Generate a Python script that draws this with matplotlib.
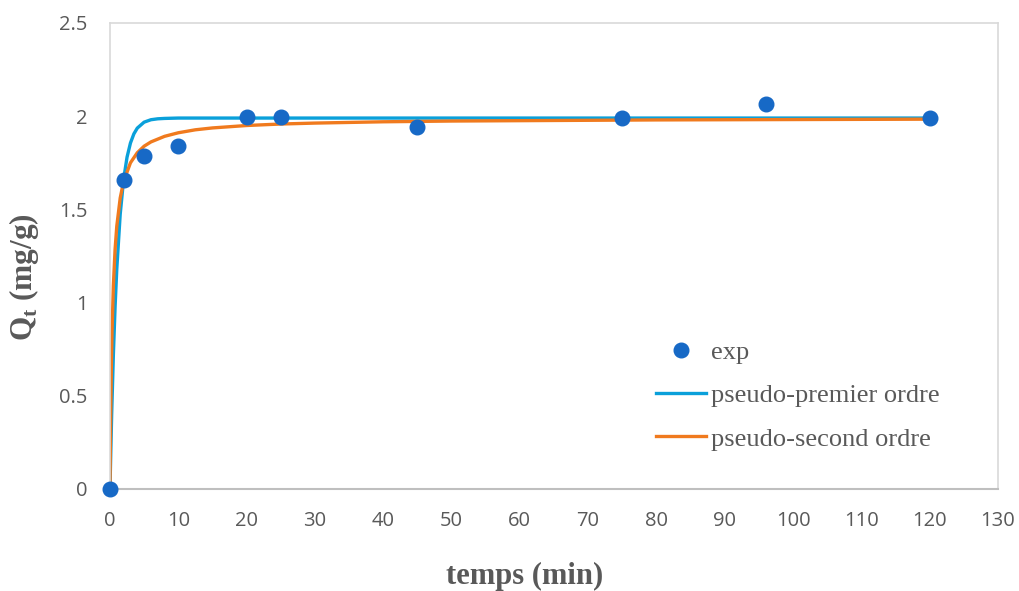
import matplotlib
matplotlib.use("Agg")
import matplotlib.pyplot as plt

# Experimental data
t_exp = [0, 2, 5, 10, 20, 25, 45, 75, 96, 120]
q_exp = [0, 1.655, 1.785, 1.838, 1.995, 1.995, 1.94, 1.99, 2.068, 1.99]

# Pseudo-first order curve
t_pfo = [0, 0.25, 0.5, 0.75, 1, 1.5, 2, 2.5, 3, 3.5, 4, 5, 6, 7, 8, 10, 20, 40, 60, 80, 100, 120]
q_pfo = [0, 0.401, 0.721, 0.977, 1.181, 1.474, 1.661, 1.780, 1.856, 1.905, 1.936, 1.968,
         1.981, 1.986, 1.988, 1.990, 1.990, 1.990, 1.990, 1.990, 1.990, 1.990]

# Pseudo-second order curve
t_pso = [0, 0.1, 0.2, 0.3, 0.5, 0.75, 1, 1.5, 2, 3, 4, 5, 6, 8, 10, 12.5, 15, 20, 25, 30,
         40, 50, 60, 80, 100, 120]
q_pso = [0, 0.389, 0.650, 0.839, 1.091, 1.285, 1.410, 1.561, 1.650, 1.750, 1.804, 1.839,
         1.862, 1.892, 1.911, 1.927, 1.937, 1.950, 1.958, 1.963, 1.970, 1.974, 1.976,
         1.980, 1.982, 1.984]

x_ticks = [0, 10, 20, 30, 40, 50, 60, 70, 80, 90, 100, 110, 120, 130]
y_ticks = [0, 0.5, 1, 1.5, 2, 2.5]
y_tick_labels = ["0", "0.5", "1", "1.5", "2", "2.5"]

fig = plt.figure(figsize=(10.2, 5.91), dpi=100)
ax = fig.add_axes([0.1078, 0.1726, 0.8706, 0.7885])

ax.plot(t_exp, q_exp, linestyle="none", marker="o", markersize=10.5,
        color="#1769C6", label="exp", zorder=3, clip_on=False)
ax.plot(t_pfo, q_pfo, color="#0AA0DA", linewidth=2.4, label="pseudo-premier ordre", zorder=2)
ax.plot(t_pso, q_pso, color="#F07A1E", linewidth=2.4, label="pseudo-second ordre", zorder=2)

ax.set_xlim(0, 130)
ax.set_ylim(0, 2.5)
ax.set_xticks(x_ticks)
ax.set_yticks(y_ticks)
ax.set_yticklabels(y_tick_labels)
ax.tick_params(length=0, labelsize=14.5, labelcolor="#595959")
ax.tick_params(axis="x", pad=16)
ax.tick_params(axis="y", pad=16)
for lab in ax.get_xticklabels() + ax.get_yticklabels():
    lab.set_family("Open Sans")

for side in ["top", "right", "left"]:
    ax.spines[side].set_color("#D9D9D9")
    ax.spines[side].set_linewidth(1.2)
ax.spines["bottom"].set_color("#BFBFBF")
ax.spines["bottom"].set_linewidth(1.5)

ax.set_xlabel("temps (min)", family="Liberation Serif", fontweight="bold",
              fontsize=22, color="#595959")
ax.xaxis.set_label_coords(0.467, -0.157)
ax.set_ylabel(r"Q$_\mathregular{t}$ (mg/g)", family="Liberation Serif", fontweight="bold",
              fontsize=22.5, color="#595959")
ax.yaxis.set_label_coords(-0.078, 0.455)

leg = ax.legend(loc="upper left", bbox_to_anchor=(0.6025, 0.341), frameon=False,
                prop={"family": "Liberation Serif", "size": 19}, labelcolor="#595959",
                handlelength=1.9, handletextpad=0.2, labelspacing=0.75, borderaxespad=0)

fig.savefig("out.png", dpi=100)
